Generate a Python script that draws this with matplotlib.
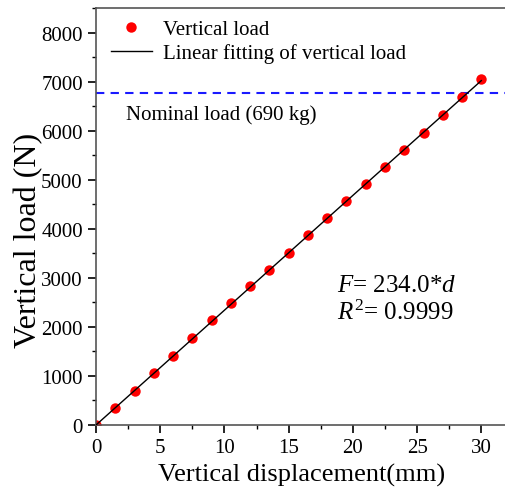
import numpy as np
import matplotlib
matplotlib.use("Agg")
import matplotlib.pyplot as plt
from matplotlib.ticker import MultipleLocator

plt.rcParams['font.family'] = ['Liberation Serif', 'DejaVu Serif']
plt.rcParams['mathtext.fontset'] = 'custom'
plt.rcParams['mathtext.rm'] = 'Liberation Serif'
plt.rcParams['mathtext.it'] = 'Liberation Serif:italic'

displacement = [0, 1.5, 3, 4.5, 6, 7.5, 9, 10.5, 12, 13.5, 15, 16.5, 18, 19.5,
                21, 22.5, 24, 25.5, 27, 28.5, 30]
load = [0, 340, 699, 1053, 1412, 1773, 2133, 2486, 2838, 3164, 3505, 3865,
        4218, 4570, 4910, 5263, 5603, 5956, 6316, 6689, 7050]
fit_slope = 234.0
fit_range = [0, 30]
nominal_load = 690 * 9.8
r_squared = "0.9999"

fig = plt.figure(figsize=(5.06, 4.89), dpi=100)
ax = fig.add_axes([96/506, 1 - 426/489, 1 - 96/506 + 0.002, (426 - 9)/489])

ax.axhline(nominal_load, color='#1a1aff', linestyle=(0, (4, 3)), linewidth=1.5, zorder=1)
fx = np.array(fit_range)
ax.plot(fx, fit_slope * fx, color='black', linewidth=1.0, zorder=3,
        label='Linear fitting of vertical load')
ax.plot(displacement, load, 'o', color='red', markersize=7.5, zorder=2,
        label='Vertical load', markeredgewidth=0)

ax.set_xlim(0, 32)
ax.set_ylim(0, 8500)
ax.xaxis.set_major_locator(MultipleLocator(5))
ax.xaxis.set_minor_locator(MultipleLocator(2.5))
ax.yaxis.set_major_locator(MultipleLocator(1000))
ax.yaxis.set_minor_locator(MultipleLocator(500))
ax.tick_params(which='major', direction='out', length=6, width=1.2, labelsize=15,
               color='black')
ax.tick_params(which='minor', direction='out', length=3, width=1.0, color='black')
for s in ['top', 'bottom', 'left']:
    ax.spines[s].set_color('#555555')
    ax.spines[s].set_linewidth(1.2)
ax.spines['right'].set_visible(False)

ax.set_xlabel('Vertical displacement(mm)', fontsize=19, labelpad=4)
ax.set_ylabel('Vertical load (N)', fontsize=23)
ax.yaxis.set_label_coords(-0.128, 0.446)

handles, labels = ax.get_legend_handles_labels()
ax.legend(handles[::-1], labels[::-1], loc='upper left', frameon=False, fontsize=15,
          bbox_to_anchor=(0.0, 1.007), handlelength=2.0, handletextpad=0.5,
          labelspacing=0.2, borderaxespad=0.3)

ax.text(2.3, 6337, 'Nominal load (690 kg)', fontsize=15, va='center', ha='left')
ax.text(18.8, 2730, r'$F$' + '= ' + f'{fit_slope:.1f}*' + r'$d$', fontsize=18,
        ha='left', va='baseline')
ax.text(18.8, 2160, r'$R^2$' + '= ' + r_squared, fontsize=18, ha='left', va='baseline')

fig.savefig('out.png', dpi=100)
